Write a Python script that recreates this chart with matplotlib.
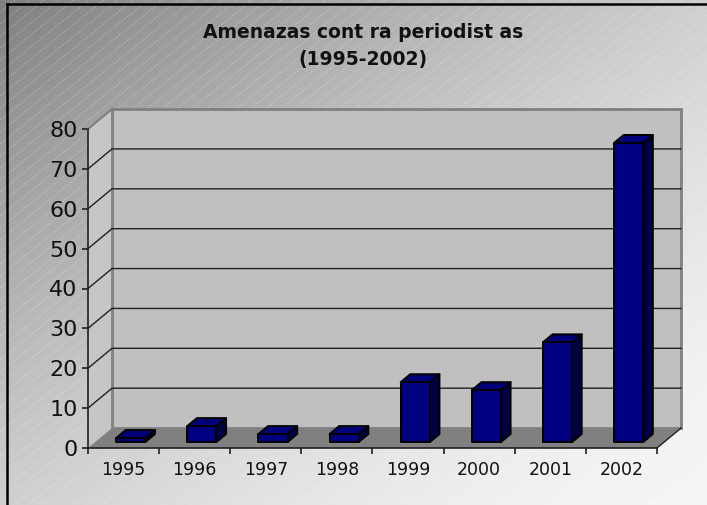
import numpy as np
import matplotlib.pyplot as plt
from matplotlib.patches import Polygon, Rectangle

years = ["1995", "1996", "1997", "1998", "1999", "2000", "2001", "2002"]
amenazas = [1, 4, 2, 2, 15, 13, 25, 75]
y_ticks = [0, 10, 20, 30, 40, 50, 60, 70, 80]

title_1 = "Amenazas cont ra periodist as"
title_2 = "(1995-2002)"

# fake 3d: depth offset of the back wall in data units
ox, oy = 0.3375, 5.0
f0, f1 = 0.3, 0.7
bar_w = 0.41
ymax = 80

W, H = 707, 505
fig = plt.figure(figsize=(W / 100, H / 100), dpi=100)

# background gradient with hatch lines
bg = fig.add_axes([0, 0, 1, 1])
bg.axis("off")
u = np.linspace(0, 1, W)
v = np.linspace(0, 1, H)
t = (u[None, :] + v[:, None]) / 2
shade = 0.5 + 0.46 * (1 - (1 - t) ** 1.6)
bg.imshow(shade, cmap="gray", vmin=0, vmax=1,
          extent=[0, W, H, 0], aspect="auto", origin="upper")
k = np.tan(np.radians(39))
for c in np.arange(0, H + W * k + 20, 12):
    bg.plot([0, W], [c, c - W * k], color="white", lw=0.5, alpha=0.35,
            ls=(0, (3, 2)))
bg.plot([7, 7], [4, H], color="black", lw=1.8)
bg.plot([7, W], [4, 4], color="black", lw=1.8)
bg.set_xlim(0, W)
bg.set_ylim(H, 0)

# main axes: front x axis 88..657 px, y 0 at 448 px, 80 at 129 px
px_per_cat = (657 - 88) / 8
px_per_val = (448 - 129) / 80
x0, x1 = -0.62, 7.95
y0, y1 = -4.5, 87
left_px = 88 + (x0 + 0.5) * px_per_cat
right_px = 88 + (x1 + 0.5) * px_per_cat
bot_px = 448 - y0 * px_per_val
top_px = 448 - y1 * px_per_val
ax = fig.add_axes([left_px / W, (H - bot_px) / H,
                   (right_px - left_px) / W, (bot_px - top_px) / H])
ax.set_facecolor("none")
ax.set_xlim(x0, x1)
ax.set_ylim(y0, y1)

n = len(years)
xl, xr = -0.5, n - 0.5

# walls and floor
ax.add_patch(Polygon([(xl, 0), (xl, ymax), (xl + ox, ymax + oy), (xl + ox, oy)],
                     closed=True, facecolor="#c6c6c6", edgecolor="none", zorder=1))
ax.add_patch(Rectangle((xl + ox, oy), n, ymax, facecolor="#c0c0c0",
                       edgecolor="#808080", lw=2, zorder=1))
ax.add_patch(Polygon([(xl, 0), (xr, 0), (xr + ox, oy), (xl + ox, oy)],
                     closed=True, facecolor="#808080", edgecolor="none", zorder=2))
ax.plot([xl, xl + ox], [ymax, ymax + oy], color="#808080", lw=1.5, zorder=2)
ax.plot([xr, xr + ox], [0, oy], color="#202020", lw=1, zorder=3)

for val in y_ticks[1:-1]:
    ax.plot([xl, xl + ox, xr + ox], [val, val + oy, val + oy],
            color="#202020", lw=1, zorder=2)

# bars
front = "#000080"
top = "#000078"
side = "#000045"
for i, val in enumerate(amenazas):
    a = i - bar_w / 2 + f0 * ox
    b = i + bar_w / 2 + f0 * ox
    yb = f0 * oy
    yt = val + f0 * oy
    dx = (f1 - f0) * ox
    dy = (f1 - f0) * oy
    ax.add_patch(Polygon([(b, yb), (b, yt), (b + dx, yt + dy), (b + dx, yb + dy)],
                         closed=True, facecolor=side, edgecolor="black",
                         lw=1.4, joinstyle="round", zorder=4))
    ax.add_patch(Polygon([(a, yt), (b, yt), (b + dx, yt + dy), (a + dx, yt + dy)],
                         closed=True, facecolor=top, edgecolor="black",
                         lw=1.4, joinstyle="round", zorder=4))
    ax.add_patch(Rectangle((a, yb), b - a, val, facecolor=front,
                           edgecolor="black", lw=1.4, joinstyle="round", zorder=5))

# axes lines, ticks and labels
for s in ["top", "right"]:
    ax.spines[s].set_visible(False)
ax.spines["left"].set_position(("data", xl))
ax.spines["left"].set_bounds(0, ymax)
ax.spines["bottom"].set_position(("data", 0))
ax.spines["bottom"].set_bounds(xl, xr)
for s in ["left", "bottom"]:
    ax.spines[s].set_color("#202020")
    ax.spines[s].set_linewidth(1.2)
    ax.spines[s].set_zorder(6)

ax.set_yticks(y_ticks)
ax.set_yticklabels([str(v) for v in y_ticks], fontsize=16, color="#111111")
ax.tick_params(axis="y", direction="out", length=4.5, width=1.2,
               color="#202020", pad=3)

ax.set_xticks(range(n))
ax.set_xticklabels(years, fontsize=12.5, color="#111111")
ax.set_xticks(np.arange(-0.5, n, 1), minor=True)
ax.tick_params(axis="x", which="major", length=0, pad=9.5)
ax.tick_params(axis="x", which="minor", direction="out", length=4.5,
               width=1.2, color="#202020")

fig.text(363 / W, 1 - 32 / H, title_1, ha="center", va="center",
         fontsize=13.5, fontweight="bold", color="#111111")
fig.text(363 / W, 1 - 60 / H, title_2, ha="center", va="center",
         fontsize=13.5, fontweight="bold", color="#111111")

fig.savefig("out.png", dpi=100)
